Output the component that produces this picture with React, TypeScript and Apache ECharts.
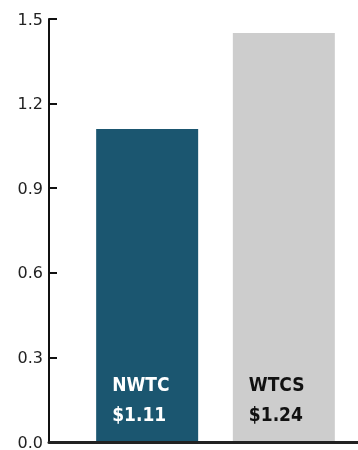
import React, { useEffect, useRef } from "react";
import * as echarts from "echarts";

const categories = ["NWTC", "WTCS"];
const barValues = [1.11, 1.45];
const priceLabels = ["$1.11", "$1.24"];
const barColors = ["#1b5670", "#cdcdcd"];
const labelColors = ["#ffffff", "#111111"];
const yTickMin = 0;
const yTickMax = 1.5;
const yTickStep = 0.3;

export default function App() {
  const ref = useRef<HTMLDivElement>(null);
  useEffect(() => {
    if (!ref.current) return;
    const chart = echarts.init(ref.current, undefined, { renderer: "svg" });
    const series = categories.map((name, i) => ({
      name,
      type: "bar",
      data: [barValues[i]],
      barWidth: 102,
      barGap: "34%",
      itemStyle: { color: barColors[i] },
      label: {
        show: true,
        position: "insideBottomLeft",
        distance: 16,
        offset: [0, 3],
        formatter: () => `${name}\n${priceLabels[i]}`,
        color: labelColors[i],
        fontFamily: "'DejaVu Sans Condensed', 'Liberation Sans Narrow', sans-serif",
        fontWeight: "bold",
        fontSize: 19,
        lineHeight: 30,
      },
    }));
    chart.setOption({
      animation: false,
      grid: {
        left: 49,
        width: 333,
        top: 19,
        bottom: 8,
        containLabel: false,
        outerBoundsMode: "none",
      },
      xAxis: {
        type: "category",
        data: [""],
        axisTick: { show: false },
        axisLabel: { show: false },
        axisLine: { show: true, lineStyle: { color: "#222", width: 3 } },
        z: 5,
      },
      yAxis: {
        type: "value",
        min: yTickMin,
        max: yTickMax,
        interval: yTickStep,
        splitLine: { show: false },
        axisLine: { show: true, lineStyle: { color: "#111", width: 2 } },
        axisTick: { show: true, inside: true, length: 8, lineStyle: { color: "#111", width: 2 } },
        axisLabel: {
          margin: 6,
          color: "#222",
          fontFamily: "'DejaVu Sans', sans-serif",
          fontSize: 16,
          verticalAlign: "middle",
          verticalAlignMinLabel: "middle",
          verticalAlignMaxLabel: "middle",
          formatter: (v: number) => v.toFixed(1),
        },
      },
      series,
    });
    return () => chart.dispose();
  }, []);
  return (
    <div
      ref={ref}
      style={{ position: "fixed", top: 0, left: 0, width: 358, height: 450 }}
    />
  );
}
